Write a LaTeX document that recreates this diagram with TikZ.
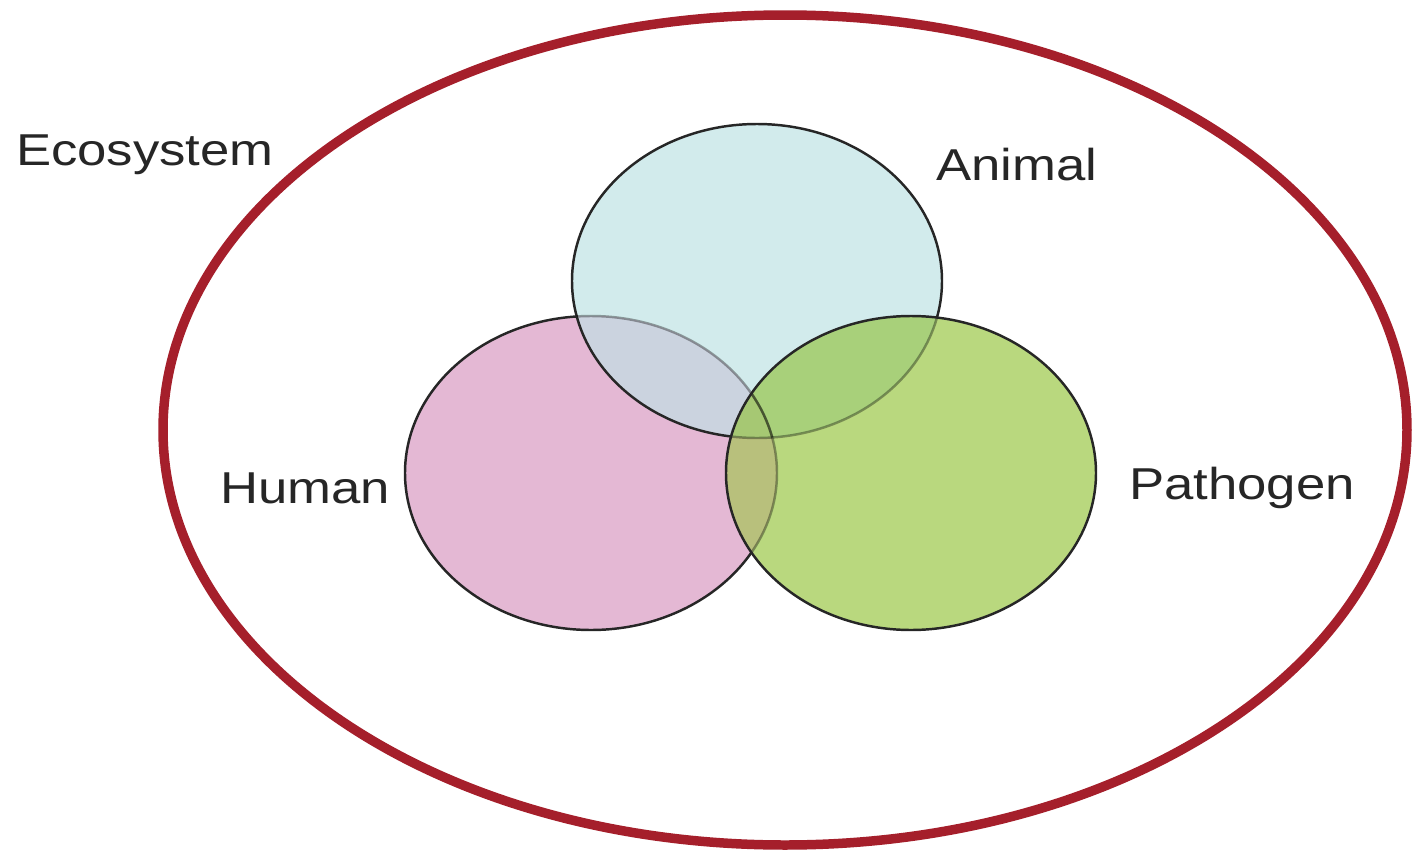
\documentclass[tikz,border=0pt]{standalone}
\usepackage{fontspec}
\setmainfont[FakeStretch=1.18]{Liberation Sans}
\usetikzlibrary{positioning}
\definecolor{EcoRed}{HTML}{A51F2B}
\definecolor{AnimalFill}{HTML}{D2EBEC}
\definecolor{HumanFill}{HTML}{E4B8D4}
\definecolor{PathFill}{HTML}{B9D87E}
\definecolor{HAFill}{HTML}{CBD3DF}
\definecolor{APFill}{HTML}{A8D07A}
\definecolor{HPFill}{HTML}{B8C07C}
\definecolor{HAPFill}{HTML}{A6C873}

\newcommand{\animalshape}{(757,281) ellipse (185 and 157)}
\newcommand{\humanshape}{(591,473) ellipse (186 and 157)}
\newcommand{\pathshape}{(911,473) ellipse (185 and 157)}

\begin{document}
\begin{tikzpicture}[
  x=0.01cm, y=-0.01cm,
  lbl/.style={font=\fontsize{12.7}{15}\selectfont, text=black!85, inner sep=0pt},
  ring/.style={draw=black!85, line width=0.7pt},
  faint/.style={draw=black, draw opacity=0.35, line width=0.7pt}
]
\useasboundingbox (0,0) rectangle (1414,854);

% ecosystem border
\draw[EcoRed, line width=2.7pt] (785,430) ellipse (622 and 415);

% base fills
\fill[AnimalFill] \animalshape;
\fill[HumanFill]  \humanshape;
\fill[PathFill]   \pathshape;

% overlaps
\begin{scope}
  \clip \animalshape;
  \fill[HAFill] \humanshape;
  \fill[APFill] \pathshape;
\end{scope}
\begin{scope}
  \clip \humanshape;
  \fill[HPFill] \pathshape;
  \clip \pathshape;
  \fill[HAPFill] \animalshape;
\end{scope}

% outlines, faint where covered
\begin{scope}[even odd rule]
  \clip (0,0) rectangle (1414,854) \pathshape;
  \draw[ring] \animalshape;
\end{scope}
\begin{scope}[even odd rule]
  \clip (0,0) rectangle (1414,854) \animalshape;
  \clip (0,0) rectangle (1414,854) \pathshape;
  \draw[ring] \humanshape;
\end{scope}
\begin{scope}
  \clip \pathshape;
  \draw[faint] \animalshape;
  \draw[faint] \humanshape;
\end{scope}
\begin{scope}
  \clip \animalshape;
  \draw[faint] \humanshape;
\end{scope}
\draw[ring] \pathshape;

% labels
\node[lbl] (eco)      at (145,155)  {Ecosystem};
\node[lbl] (animal)   at (1017,165) {Animal};
\node[lbl] (human)    at (305,488)  {Human};
\node[lbl] (pathogen) at (1242,488) {Pathogen};
\end{tikzpicture}
\end{document}
